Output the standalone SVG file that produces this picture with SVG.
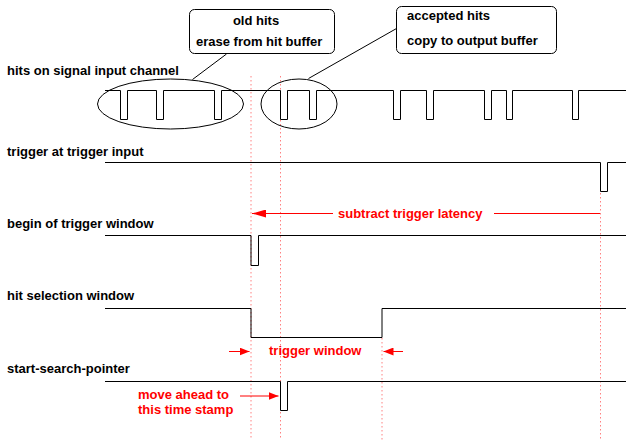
<svg xmlns="http://www.w3.org/2000/svg" width="626" height="443" viewBox="0 0 626 443">
<defs>
<style>
.lbl{font-family:"Liberation Sans",Arial,sans-serif;font-weight:bold;font-size:13px;fill:#000}
.red{font-family:"Liberation Sans",Arial,sans-serif;font-weight:bold;font-size:13px;fill:#ff0000}
.sig{fill:none;stroke:#000;stroke-width:1}
.dot{fill:none;stroke:#ff8080;stroke-width:1;stroke-dasharray:1.5,2.5}
.rl{fill:none;stroke:#ff0000;stroke-width:1}
.box{fill:#fff;stroke:#000;stroke-width:1}
</style>
<marker id="ah" viewBox="0 0 10 8" refX="10" refY="4" markerWidth="10" markerHeight="8" markerUnits="userSpaceOnUse" orient="auto">
<path d="M0,0 L10,4 L0,8 z" fill="#ff0000"/>
</marker>
<marker id="ahs" viewBox="0 0 14 8" refX="14" refY="4" markerWidth="14" markerHeight="8" markerUnits="userSpaceOnUse" orient="auto">
<path d="M0,0 L14,4 L0,8 z" fill="#ff0000"/>
</marker>
</defs>

<g id="guides">
<line class="dot" x1="251" y1="76" x2="251" y2="440"/>
<line class="dot" x1="280.5" y1="76" x2="280.5" y2="440"/>
<line class="dot" x1="382" y1="338" x2="382" y2="440"/>
<line class="dot" x1="600.5" y1="193" x2="600.5" y2="440"/>
</g>

<g id="labels">
<text class="lbl" x="7" y="75">hits on signal input channel</text>
<text class="lbl" x="7" y="156">trigger at trigger input</text>
<text class="lbl" x="7" y="228">begin of trigger window</text>
<text class="lbl" x="7" y="300">hit selection window</text>
<text class="lbl" x="7" y="373">start-search-pointer</text>
</g>

<g id="signals">
<path class="sig" d="M105,90.5 H120.5 V119.5 H127.5 V90.5 H156.5 V119.5 H163.5 V90.5 H214.5 V119.5 H221.5 V90.5 H280.5 V119.5 H287.5 V90.5 H309.5 V119.5 H316.5 V90.5 H393.5 V119.5 H400.5 V90.5 H426.5 V119.5 H433.5 V90.5 H484.5 V119.5 H491.5 V90.5 H506.5 V119.5 H512.5 V90.5 H572.5 V119.5 H578.5 V90.5 H626"/>
<path class="sig" d="M105,162.5 H600.5 V191.5 H607.5 V162.5 H626"/>
<path class="sig" d="M105,235.5 H251 V265.5 H258.5 V235.5 H626"/>
<path class="sig" d="M105,308.5 H251 V337.5 H382 V308.5 H626"/>
<path class="sig" d="M105,381.5 H280.5 V410.5 H287.5 V381.5 H626"/>
</g>

<g id="old-hits">
<ellipse class="sig" cx="170.5" cy="104" rx="73" ry="25"/>
<line class="sig" x1="226.5" y1="54" x2="192.5" y2="79.5"/>
<rect class="box" x="189.5" y="9.5" width="145" height="44" rx="5"/>
<text class="lbl" x="256" y="25" text-anchor="middle">old hits</text>
<text class="lbl" x="196" y="46">erase from hit buffer</text>
</g>

<g id="accepted-hits">
<ellipse class="sig" cx="299" cy="104" rx="38" ry="25"/>
<line class="sig" x1="396.5" y1="28.5" x2="308.5" y2="78.5"/>
<rect class="box" x="396.5" y="6.5" width="160" height="47" rx="5"/>
<text class="lbl" x="407" y="20">accepted hits</text>
<text class="lbl" x="407" y="45">copy to output buffer</text>
</g>

<g id="connectors">
<line class="rl" x1="333" y1="213.5" x2="252" y2="213.5" marker-end="url(#ahs)"/>
<line class="rl" x1="494" y1="213.5" x2="600" y2="213.5"/>
<line class="rl" x1="229" y1="351.5" x2="249.5" y2="351.5" marker-end="url(#ah)"/>
<line class="rl" x1="403" y1="351.5" x2="383.5" y2="351.5" marker-end="url(#ah)"/>
<line class="rl" x1="240" y1="396" x2="278.5" y2="396" marker-end="url(#ah)"/>
</g>

<g id="annotations">
<text class="red" x="338" y="218">subtract trigger latency</text>
<text class="red" x="269" y="355">trigger window</text>
<text class="red" x="138" y="399">move ahead to</text>
<text class="red" x="138" y="414">this time stamp</text>
</g>
</svg>
